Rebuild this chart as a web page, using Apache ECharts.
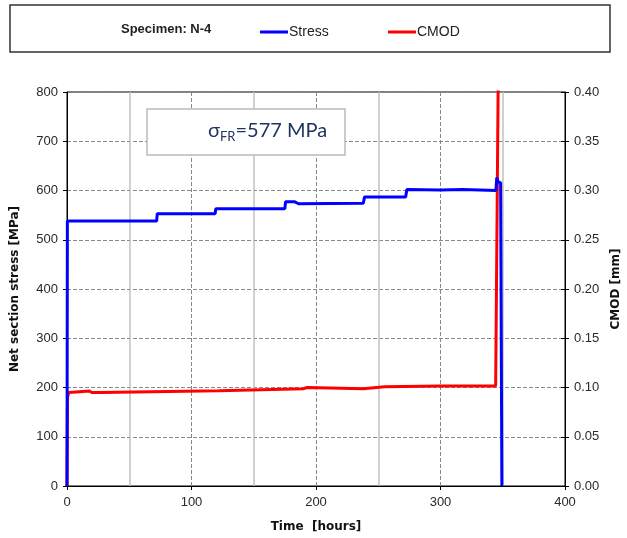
<!DOCTYPE html>
<html><head><meta charset="utf-8">
<script src="https://cdn.jsdelivr.net/npm/echarts@6/dist/echarts.min.js"></script>
<style>html,body{margin:0;padding:0;background:#fff}#c{width:627px;height:538px}</style>
</head><body><div id="c"></div>
<script>
// Time [hours] vs Net section stress [MPa]
const stressTime = [0, 0.3, 27, 28, 29, 72, 72.5, 119, 119.5, 175, 175.5, 183, 186, 238, 239, 272, 273, 300, 318, 319, 344.5, 345.2, 346.5, 348.3, 349.3];
const stressVal  = [0, 538, 538, 541, 538, 538, 553, 553, 563, 563, 577, 577, 573, 574, 587, 587, 602, 601, 602, 600, 600, 626, 617, 616, 0];
// Time [hours] vs CMOD [mm]
const cmodTime = [0, 0.4, 1.5, 3, 18, 20, 27, 28, 122, 123, 190, 191, 193, 194, 238, 239, 255, 256, 300, 301, 344.3, 346.6];
const cmodVal  = [0, 0.09, 0.095, 0.0965, 0.0965, 0.0948, 0.0948, 0.0968, 0.0968, 0.0988, 0.0988, 0.1, 0.1, 0.0988, 0.0988, 0.1008, 0.1008, 0.1015, 0.1015, 0.101, 0.1015, 0.45];
const xTicks = [0, 100, 200, 300, 400];
const yLeftTicks = [0, 100, 200, 300, 400, 500, 600, 700, 800];
const yRightTicks = [0, 0.05, 0.1, 0.15, 0.2, 0.25, 0.3, 0.35, 0.4];

const stressData = stressTime.map((t, i) => [t, stressVal[i]]);
const cmodData = cmodTime.map((t, i) => [t, cmodVal[i]]);

const chart = echarts.init(document.getElementById('c'));
const lab = {color: '#2a2a2a', fontFamily: 'Liberation Sans', fontSize: 13};
const nameStyle = {fontFamily: 'DejaVu Sans', fontSize: 12, fontWeight: 'bold', color: '#111'};
chart.setOption({
  animation: false,
  grid: {left: 67, right: 62, top: 92, bottom: 52, containLabel: false, outerBoundsMode: 'none', show: true, borderColor: '#000', borderWidth: 1, backgroundColor: 'transparent'},
  graphic: [
    {type: 'rect', shape: {x: 10, y: 5, width: 600, height: 47}, style: {fill: '#fff', stroke: '#333', lineWidth: 1.5}, z: -1},
    {type: 'text', left: 121, top: 23, style: {text: 'Specimen: N-4', font: 'bold 13px "Liberation Sans Narrow", "Liberation Sans"', fill: '#222'}},
    {type: 'rect', shape: {x: 147, y: 109, width: 198, height: 46}, style: {fill: '#fff', stroke: '#bbb', lineWidth: 1.5}, z: 10},
    {type: 'text', x: 208, y: 119, z: 11, style: {
      text: '{s|σ}{sub|FR}{s|=577 MPa}',
      rich: {
        s: {fontSize: 20, fontFamily: 'Lato, "Open Sans"', fill: '#1f3560', color: '#1f3560'},
        sub: {fontSize: 13, fontFamily: 'Lato, "Open Sans"', fill: '#1f3560', color: '#1f3560', padding: [11, 0, 0, 0]}
      }
    }}
  ],
  legend: [
    {data: ['Stress'], left: 255, top: 20, icon: 'rect', itemWidth: 28, itemHeight: 3, textStyle: {fontFamily: 'Liberation Sans Narrow, Liberation Sans', fontSize: 14, color: '#222', padding: [0,0,0,-4]}},
    {data: ['CMOD'], left: 383, top: 20, icon: 'rect', itemWidth: 28, itemHeight: 3, textStyle: {fontFamily: 'Liberation Sans Narrow, Liberation Sans', fontSize: 14, color: '#222', padding: [0,0,0,-4]}}
  ],
  xAxis: {
    type: 'value', min: xTicks[0], max: xTicks[xTicks.length - 1], interval: 100,
    name: 'Time  [hours]', nameLocation: 'middle', nameGap: 35,
    nameTextStyle: nameStyle,
    axisLine: {lineStyle: {color: '#000', width: 1}},
    axisTick: {show: true, length: 4, lineStyle: {color: '#000'}},
    axisLabel: Object.assign({}, lab, {margin: 10}),
    splitLine: {show: true, lineStyle: {color: '#888', type: 'dashed', width: 1}},
    minorTick: {show: false, splitNumber: 2},
    minorSplitLine: {show: true, lineStyle: {color: '#c0c0c0', width: 1.5, type: 'solid'}}
  },
  yAxis: [
    {type: 'value', min: yLeftTicks[0], max: yLeftTicks[yLeftTicks.length - 1], interval: 100, position: 'left',
     name: 'Net section stress [MPa]', nameLocation: 'middle', nameGap: 46, nameRotate: 90,
     nameTextStyle: nameStyle,
     axisLine: {show: true, lineStyle: {color: '#000'}},
     axisTick: {show: true, length: 4, lineStyle: {color: '#000'}},
     axisLabel: Object.assign({}, lab, {margin: 9}),
     splitLine: {show: true, lineStyle: {color: '#888', type: 'dashed', width: 1}}},
    {type: 'value', min: yRightTicks[0], max: yRightTicks[yRightTicks.length - 1], interval: 0.05, position: 'right',
     name: 'CMOD [mm]', nameLocation: 'middle', nameGap: 42, nameRotate: 90,
     nameTextStyle: nameStyle,
     axisLine: {show: true, lineStyle: {color: '#000'}},
     axisTick: {show: true, length: 4, lineStyle: {color: '#000'}},
     axisLabel: Object.assign({}, lab, {margin: 9, formatter: v => v.toFixed(2)}),
     splitLine: {show: false}},
    {type: 'value', min: yRightTicks[0], max: yRightTicks[yRightTicks.length - 1], interval: 0.05, position: 'right',
     axisLine: {show: false}, axisLabel: {show: false}, splitLine: {show: false},
     axisTick: {show: true, inside: true, length: 4, lineStyle: {color: '#000'}}}
  ],
  series: [
    {name: 'Stress', type: 'line', yAxisIndex: 0, data: stressData, showSymbol: false, symbol: 'none', color: '#0000ff', lineStyle: {width: 3, color: '#0000ff'}, clip: true, z: 3},
    {name: 'CMOD', type: 'line', yAxisIndex: 1, data: cmodData, showSymbol: false, symbol: 'none', color: '#ff0000', lineStyle: {width: 3, color: '#ff0000'}, clip: true, z: 2}
  ]
});
</script></body></html>
